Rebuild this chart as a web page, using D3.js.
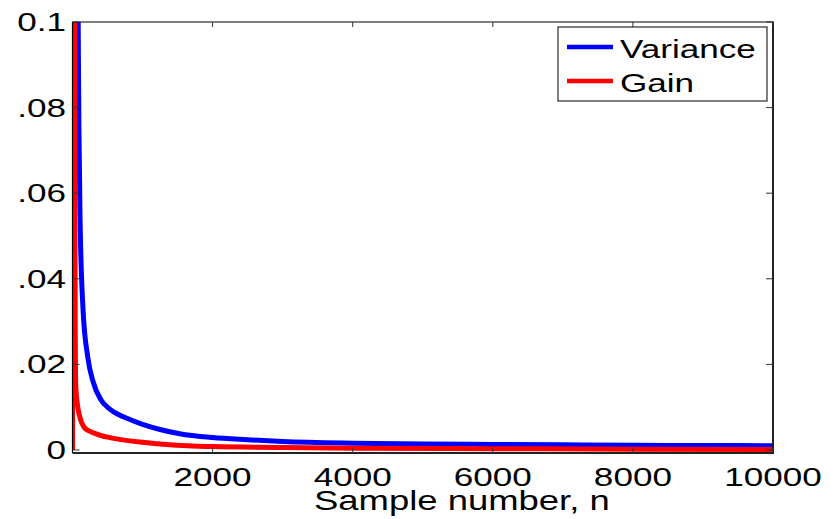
<!DOCTYPE html>
<html>
<head>
<meta charset="utf-8">
<script src="https://cdn.jsdelivr.net/npm/d3@7"></script>
<style>
  html, body { margin: 0; padding: 0; background: #fff; }
  svg text { font-family: "Liberation Sans", Arial, Helvetica, sans-serif; fill: #000; }
</style>
</head>
<body>
<svg id="chart" width="836" height="519"></svg>
<script>
// Sample index n at which each curve is listed, with its value there
const varianceN = [60, 70, 81, 92, 107, 150, 220, 293, 407, 500, 600, 793, 1000, 1250, 1530, 2000, 2500, 3000, 4000, 5000, 6000, 7000, 8000, 9000, 10000];
const varianceValues = [0.16, 0.125, 0.1, 0.075, 0.055, 0.033, 0.0215, 0.016, 0.0117, 0.0100, 0.0088, 0.0073, 0.006, 0.0048, 0.0038, 0.0029, 0.0024, 0.0020, 0.0016, 0.0014, 0.0013, 0.0012, 0.0011, 0.00105, 0.001];

const gainN = [1, 2, 30, 35, 40, 47, 71, 100, 171, 243, 386, 500, 1071, 1640, 2000, 3000, 4000, 6000, 8000, 10000];
const gainValues = [0, 0.9, 0.1, 0.05, 0.025, 0.015, 0.0105, 0.008, 0.0052, 0.0044, 0.0035, 0.003, 0.0017, 0.001, 0.0008, 0.0006, 0.0004, 0.0003, 0.0002, 0.00012];

const xTicks = [2000, 4000, 6000, 8000, 10000];
const xTickLabels = ["2000", "4000", "6000", "8000", "10000"];
const yTicks = [0, 0.02, 0.04, 0.06, 0.08, 0.1];
const yTickLabels = ["0", ".02", ".04", ".06", ".08", "0.1"];

const seriesNames = ["Variance", "Gain"];
const seriesColors = ["#0000ff", "#ff0000"];
const xLabel = "Sample number, n";

const svg = d3.select("#chart");
const plotLeft = 72.5, plotRight = 773, plotTop = 22, plotBottom = 453;
const stretch = 1.35;   // horizontal text stretch
const fontSize = 26;

const x = d3.scaleLinear().domain([0, 10000]).range([plotLeft, plotRight]);
const y = d3.scaleLinear().domain([-0.0007, 0.1]).range([plotBottom, plotTop]);

svg.append("defs").append("clipPath").attr("id", "plotClip")
  .append("rect").attr("x", plotLeft).attr("y", plotTop).attr("width", plotRight - plotLeft).attr("height", plotBottom - plotTop);

// curves (gain drawn last, on top)
const line = d3.line().x(d => x(d[0])).y(d => y(d[1])).curve(d3.curveMonotoneX);
const series = [
  d3.zip(varianceN, varianceValues),
  d3.zip(gainN, gainValues)
];
const plot = svg.append("g").attr("clip-path", "url(#plotClip)");
series.forEach((s, i) => {
  plot.append("path").datum(s)
    .attr("d", line)
    .attr("fill", "none")
    .attr("stroke", seriesColors[i])
    .attr("stroke-width", 5)
    .attr("stroke-linejoin", "round");
});

// axes frame
const frame = svg.append("g");
frame.append("line").attr("x1", plotLeft).attr("x2", plotRight).attr("y1", plotTop).attr("y2", plotTop).attr("stroke", "#000").attr("stroke-width", 1.2);
frame.append("line").attr("x1", plotLeft).attr("x2", plotLeft).attr("y1", plotTop).attr("y2", plotBottom).attr("stroke", "#000").attr("stroke-width", 1.2);
frame.append("line").attr("x1", plotLeft).attr("x2", plotRight + 1).attr("y1", plotBottom).attr("y2", plotBottom).attr("stroke", "#222").attr("stroke-width", 2);
frame.append("line").attr("x1", plotRight).attr("x2", plotRight).attr("y1", plotTop - 0.5).attr("y2", plotBottom).attr("stroke", "#222").attr("stroke-width", 2);

// inward ticks on all four sides
const xtl = 5, ytl = 7;
xTicks.forEach(t => {
  frame.append("line").attr("x1", x(t)).attr("x2", x(t)).attr("y1", plotBottom).attr("y2", plotBottom - xtl).attr("stroke", "#333");
  frame.append("line").attr("x1", x(t)).attr("x2", x(t)).attr("y1", plotTop).attr("y2", plotTop + xtl).attr("stroke", "#333");
});
yTicks.forEach(t => {
  frame.append("line").attr("x1", plotLeft).attr("x2", plotLeft + ytl).attr("y1", y(t)).attr("y2", y(t)).attr("stroke", "#333");
  frame.append("line").attr("x1", plotRight).attr("x2", plotRight - ytl).attr("y1", y(t)).attr("y2", y(t)).attr("stroke", "#333");
});

// text helper: horizontally widened labels
function label(g, tx, ty, text, anchor, size) {
  return g.append("text")
    .attr("transform", `translate(${tx},${ty}) scale(${stretch},1)`)
    .attr("text-anchor", anchor)
    .attr("font-size", size || fontSize)
    .text(text);
}
xTicks.forEach((t, i) => label(svg, x(t), 486, xTickLabels[i], "middle"));
yTicks.forEach((t, i) => label(svg, 66, y(t) + 9, yTickLabels[i], "end"));
label(svg, 314, 510, xLabel, "start", 27);

// legend
const lg = svg.append("g");
lg.append("rect").attr("x", 558).attr("y", 27).attr("width", 209).attr("height", 74)
  .attr("fill", "#fff").attr("stroke", "#000").attr("stroke-width", 1);
seriesNames.forEach((name, i) => {
  const ly = 47 + i * 34;
  lg.append("line").attr("x1", 567).attr("x2", 613).attr("y1", ly).attr("y2", ly)
    .attr("stroke", seriesColors[i]).attr("stroke-width", 4.5);
  label(lg, 620, ly + 11, name, "start");
});
</script>
</body>
</html>
